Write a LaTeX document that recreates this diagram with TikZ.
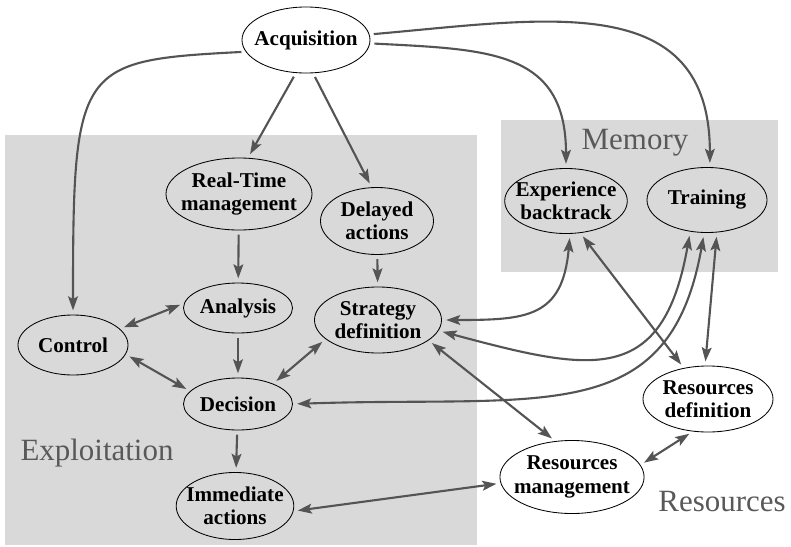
\documentclass[tikz,border=0pt]{standalone}
\usepackage{fontspec}
\setmainfont{Liberation Serif}
\usepackage{tikz}
\usetikzlibrary{shapes, arrows, arrows.meta}
\definecolor{zonegray}{gray}{0.85}
\definecolor{arrowgray}{gray}{0.33}
\definecolor{labelgray}{gray}{0.35}
\tikzstyle{el}=[%
      ellipse, draw=black, line width=0.6pt, fill=none,
      font=\bfseries\fontsize{15}{16.5}\selectfont, align=center,
      inner xsep=-5pt, inner ysep=0pt
]
\tikzstyle{zn}=[%
      fill=zonegray, draw=none
]
\tikzstyle{zl}=[%
      text=labelgray, font=\fontsize{22}{24}\selectfont, inner sep=0pt
]
\tikzstyle{fl}=[%
      draw=arrowgray, line width=1.5pt, shorten >=3pt, shorten <=3pt
]

\begin{document}
\begin{tikzpicture}[auto,
    x=0.025cm, y=0.025cm,
    ->,
    >={Stealth[length=10pt, width=7pt, inset=2pt]},
    every edge/.style=fl
  ]
    \path[use as bounding box, fill=white, -] (0,0) rectangle (791,-547);

    % zones
    \fill[zn, -] (5,-135) rectangle (477,-545);
    \fill[zn, -] (501,-120) rectangle (778,-272);
    \node[zl] (mem) at (635,-143) {Memory};
    \node[zl] (exl) at (97,-453) {Exploitation};
    \node[zl] (rsl) at (722,-502) {Resources};

    \node[el, minimum width=3.2cm, minimum height=1.65cm]    (acq) at (306,-40)  {Acquisition};
    \node[el, minimum width=3.65cm, minimum height=1.8cm]    (rt)  at (239,-194) {Real-Time\\management};
    \node[el, minimum width=2.825cm, minimum height=1.675cm] (da)  at (377,-221) {Delayed\\actions};
    \node[el, minimum width=2.725cm, minimum height=1.25cm]  (an)  at (238,-308) {Analysis};
    \node[el, minimum width=2.75cm, minimum height=1.5cm]    (ctl) at (73,-345)  {Control};
    \node[el, minimum width=2.725cm, minimum height=1.3cm]   (dec) at (238,-404) {Decision};
    \node[el, minimum width=2.825cm, minimum height=1.675cm] (im)  at (235,-506) {Immediate\\actions};
    \node[el, minimum width=3.175cm, minimum height=1.65cm]  (sd)  at (378,-320) {Strategy\\definition};
    \node[el, minimum width=3.525cm, minimum height=1.825cm] (rm)  at (572,-477) {Resources\\management};
    \node[el, minimum width=3.25cm, minimum height=1.65cm]   (rd)  at (708,-399) {Resources\\definition};
    \node[el, minimum width=3.025cm, minimum height=1.625cm] (ex)  at (566,-201) {Experience\\backtrack};
    \node[el, minimum width=3.0cm, minimum height=1.625cm]   (tr)  at (707,-200) {Training};

    \path (acq.191) edge[out=183, in=90, out distance=4.2cm, in distance=6.25cm] (ctl.north)
          (acq.253) edge (rt.76)
          (acq.282) edge (da.99)
          (acq.-3) edge[out=-3, in=90, looseness=1.3] (ex.north)
          (acq.5) edge[out=5, in=90, looseness=1.25] (tr.85)
          (rt) edge (an)
          (da) edge (sd)
          (an) edge (dec)
          (dec) edge (im)
          (ctl.19) edge[<->] (an.175)
          (ctl.-10) edge[<->] (dec.165)
          (dec.30) edge[<->] (sd.200)
          (im.-5) edge[<->] (rm.185)
          (sd.-22) edge[<->] (rm.115)
          (rm.10) edge[<->] (rd.-115)
          (sd.east) edge[<->, out=0, in=-95, looseness=1.4] (ex.-83)
          (sd.-10) edge[<->, out=-15, in=-100, looseness=1.5] (tr.-118)
          (dec.east) edge[<->, out=2, in=-100, out distance=6.25cm, in distance=5cm] (tr.-95)
          (ex.-66) edge[<->] (rd.128)
          (tr.-73) edge[<->] (rd.95)
    ;

  \end{tikzpicture}
\end{document}
